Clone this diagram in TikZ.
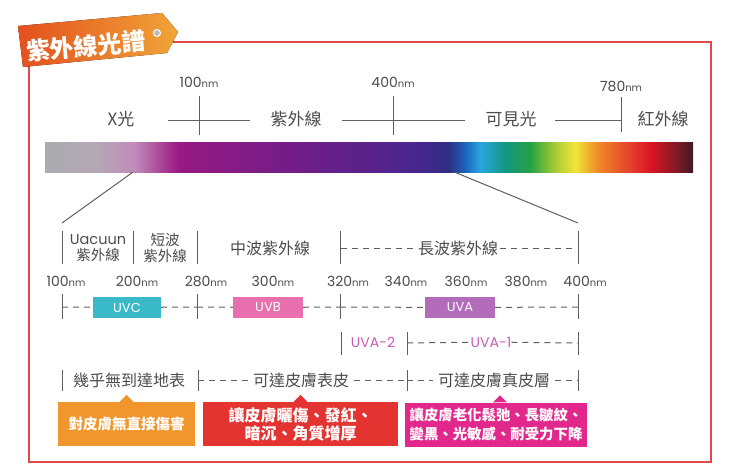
\documentclass[tikz,border=0pt]{standalone}
\usepackage{fontspec}
\setmainfont{Noto Sans CJK TC}
\newfontfamily\nmfont{Poppins}
\usetikzlibrary{calc, positioning}
\definecolor{framered}{RGB}{226,74,74}
\definecolor{tagred}{RGB}{228,80,30}
\definecolor{tagorange}{RGB}{240,165,55}
\definecolor{txtgray}{RGB}{75,75,75}
\definecolor{linegray}{RGB}{95,95,95}
\definecolor{uvcteal}{RGB}{58,185,200}
\definecolor{uvbpink}{RGB}{232,112,175}
\definecolor{uvapurple}{RGB}{178,108,186}
\definecolor{uvatext}{RGB}{200,90,180}
\definecolor{harmorange}{RGB}{240,150,45}
\definecolor{harmred}{RGB}{228,52,50}
\definecolor{harmmagenta}{RGB}{226,40,140}
\pgfdeclarehorizontalshading{spectrum}{100bp}{%
  rgb(0bp)=(.67,.67,.69); rgb(25bp)=(.67,.67,.69); rgb(28.9bp)=(.71,.66,.71);
  rgb(31.9bp)=(.75,.55,.73); rgb(34.3bp)=(.65,.22,.57); rgb(35.4bp)=(.59,.10,.51);
  rgb(43.1bp)=(.47,.11,.53); rgb(53.9bp)=(.28,.15,.55); rgb(56.1bp)=(.18,.18,.51);
  rgb(57.4bp)=(.12,.39,.73); rgb(58.6bp)=(.16,.65,.88); rgb(60.5bp)=(.08,.59,.51);
  rgb(62.4bp)=(.14,.63,.27); rgb(64.4bp)=(.67,.80,.20); rgb(65.9bp)=(.94,.90,.22);
  rgb(67.6bp)=(.94,.55,.16); rgb(69.8bp)=(.90,.29,.16); rgb(71.7bp)=(.86,.08,.14);
  rgb(73.7bp)=(.51,.10,.14); rgb(75bp)=(.24,.10,.14); rgb(100bp)=(.24,.10,.14)}
\newcommand{\nmu}{{\fontsize{10}{10}\selectfont nm}}

\begin{document}
\begin{tikzpicture}[
    x=1pt, y=-1pt,
    txt/.style  = {text=txtgray, font=\fontsize{16}{16}\selectfont, inner sep=1pt},
    nm/.style   = {text=txtgray, font=\nmfont\fontsize{14}{14}\selectfont, inner sep=1pt},
    tick/.style = {draw=linegray, line width=1pt},
    dsh/.style  = {draw=linegray, line width=1pt, dash pattern=on 6pt off 5pt},
    uv/.style   = {rectangle, minimum width=70pt, minimum height=21pt, inner sep=0pt,
                   text=white, font=\nmfont\fontsize{13}{13}\selectfont},
    note/.style = {rectangle, minimum height=44pt, inner sep=2pt, text=white, align=center},
  ]
\useasboundingbox (0,0) rectangle (730,474);

% ---- frame and title tag ----------------------------------------------------
\draw[framered, line width=1.6pt] (29,42) rectangle (711,462);
\fill[left color=tagred, right color=tagorange] (18,26) -- (162,13) -- (178,32) -- (167,53) -- (23,67) -- cycle;
\node[text=white, font=\fontsize{24}{24}\selectfont\bfseries, rotate=5] (title) at (86,46) {紫外線光譜};
\node[circle, fill=gray!55, draw=white, line width=1pt, minimum size=7pt, inner sep=0pt] (hole) at (157,33) {};

% ---- top scale ----------------------------------------------------------------
\node[nm] (n100) at (199,82) {100\nmu};
\node[nm] (n400) at (393,82) {400\nmu};
\node[nm] (n780) at (621,86) {780\nmu};
\draw[tick] (199,96) -- (199,135);
\draw[tick] (393,96) -- (393,135);
\draw[tick] (621,97) -- (621,132);
\node[txt, font=\fontsize{17}{17}\selectfont] (xray) at (121,119) {X光};
\node[txt, font=\fontsize{17}{17}\selectfont] (uvlab) at (296,119) {紫外線};
\node[txt, font=\fontsize{17}{17}\selectfont] (vis) at (511,119) {可見光};
\node[txt, font=\fontsize{17}{17}\selectfont] (ir) at (663,119) {紅外線};
\draw[tick] (168,120) -- (250,120);
\draw[tick] (342,120) -- (465,120);
\draw[tick] (555,120) -- (621,120);

% ---- spectrum bar -----------------------------------------------------------------
\node[minimum width=648pt, minimum height=30pt, inner sep=0pt, shading=spectrum] (spec) at (369,157) {};
\coordinate (zl) at (62,223);
\coordinate (zr) at (578,223);
\draw[tick] ($(spec.south west)+(88,0)$) -- (zl);
\draw[tick] ($(spec.south west)+(410,0)$) -- (zr);

% ---- bands ------------------------------------------------------------------------
\draw[tick] (62,231) -- (62,264);
\draw[tick] (133,231) -- (133,264);
\draw[tick] (197,231) -- (197,264);
\draw[tick] (340,231) -- (340,264);
\draw[tick] (578,231) -- (578,264);
\node[txt, align=center, inner sep=0pt, font=\fontsize{14.5}{16.5}\selectfont] (vac) at (98,248) {{\nmfont Uacuun}\\紫外線};
\node[txt, align=center, inner sep=0pt, font=\fontsize{14.5}{16.5}\selectfont] (short) at (165,248) {短波\\紫外線};
\node[txt] (mid) at (270,248) {中波紫外線};
\node[txt, inner xsep=2pt] (long) at (458,248) {長波紫外線};
\draw[dsh] (341,248) -- (long);
\draw[dsh] (long) -- (577,248);

% ---- wavelengths --------------------------------------------------------------------
\node[nm] (w100) at (66,281) {100\nmu};
\node[nm] (w200) at (137,281) {200\nmu};
\node[nm] (w280) at (206,281) {280\nmu};
\node[nm] (w300) at (273,281) {300\nmu};
\node[nm] (w320) at (348,281) {320\nmu};
\node[nm] (w340) at (406,281) {340\nmu};
\node[nm] (w360) at (466,281) {360\nmu};
\node[nm] (w380) at (526,281) {380\nmu};
\node[nm] (w400) at (585,281) {400\nmu};

% ---- UVC / UVB / UVA ------------------------------------------------------------------
\coordinate (u1) at (62,307);
\coordinate (u2) at (197,307);
\coordinate (u3) at (340,307);
\coordinate (u4) at (578,307);
\draw[tick] (u1) ++(0,-13) -- ++(0,25);
\draw[tick] (u2) ++(0,-13) -- ++(0,25);
\draw[tick] (u3) ++(0,-13) -- ++(0,25);
\draw[tick] (u4) ++(0,-13) -- ++(0,25);
\node[uv, fill=uvcteal, minimum width=68pt] (uvc) at (127,307.5) {UVC};
\node[uv, fill=uvbpink] (uvb) at (268,307.5) {UVB};
\node[uv, fill=uvapurple] (uva) at (460,307.5) {UVA};
\draw[dsh] (u1) -- (uvc);
\draw[dsh] (uvc) -- (u2);
\draw[dsh] (u2) -- (uvb);
\draw[dsh] (uvb) -- (u3);
\draw[dsh] (u3) -- (uva);
\draw[dsh] (uva) -- (u4);

% ---- UVA-2 / UVA-1 -------------------------------------------------------------------
\coordinate (a1) at (341,343);
\coordinate (a2) at (407,343);
\coordinate (a3) at (578,343);
\draw[tick] (a1) ++(0,-11) -- ++(0,23);
\draw[tick] (a2) ++(0,-11) -- ++(0,23);
\draw[tick] (a3) ++(0,-11) -- ++(0,23);
\node[nm, text=uvatext] (uva2) at (373,342) {UVA-2};
\node[nm, text=uvatext, inner xsep=0pt] (uva1) at (491,342) {UVA-1};
\draw[dsh] (a2) -- (uva1);
\draw[dsh] (uva1) -- (a3);

% ---- depth reached -----------------------------------------------------------------
\coordinate (s1) at (62,380);
\coordinate (s2) at (198,380);
\coordinate (s3) at (407,380);
\coordinate (s4) at (578,380);
\draw[tick] (s1) ++(0,-10) -- ++(0,21);
\draw[tick] (s2) ++(0,-10) -- ++(0,21);
\draw[tick] (s3) ++(0,-10) -- ++(0,21);
\draw[tick] (s4) ++(0,-10) -- ++(0,21);
\node[txt] (ground) at (129,380) {幾乎無到達地表};
\node[txt, inner xsep=5pt] (epi) at (301,380) {可達皮膚表皮};
\node[txt, inner xsep=5pt] (derm) at (494,380) {可達皮膚真皮層};
\draw[dsh] (s2) -- (epi);
\draw[dsh] (epi) -- (s3);
\draw[dsh] (s3) -- (derm);
\draw[dsh] (derm) -- (s4);

% ---- effects on skin ------------------------------------------------------------------
\node[note, fill=harmorange, minimum width=137pt, font=\fontsize{14.5}{18}\selectfont\bfseries] (harmc) at (126.5,424) {對皮膚無直接傷害};
\node[note, fill=harmred, minimum width=195pt, font=\fontsize{16}{18}\selectfont\bfseries] (harmb) at (300.5,424) {讓皮膚曬傷、發紅、\\暗沉、角質增厚};
\node[note, fill=harmmagenta, minimum width=182pt, font=\fontsize{14.4}{19}\selectfont\bfseries] (harma) at (496,424.5) {讓皮膚老化鬆弛、長皺紋、\\變黑、光敏感、耐受力下降};
\fill[harmorange] ($(harmc.north)+(-7,0)$) -- ++(7,-7) -- ++(7,7) -- cycle;
\fill[harmred] ($(harmb.north)+(-7,0)$) -- ++(7,-7) -- ++(7,7) -- cycle;
\fill[harmmagenta] ($(harma.north)+(-3,0)$) -- ++(7,-7) -- ++(7,7) -- cycle;
\end{tikzpicture}
\end{document}
